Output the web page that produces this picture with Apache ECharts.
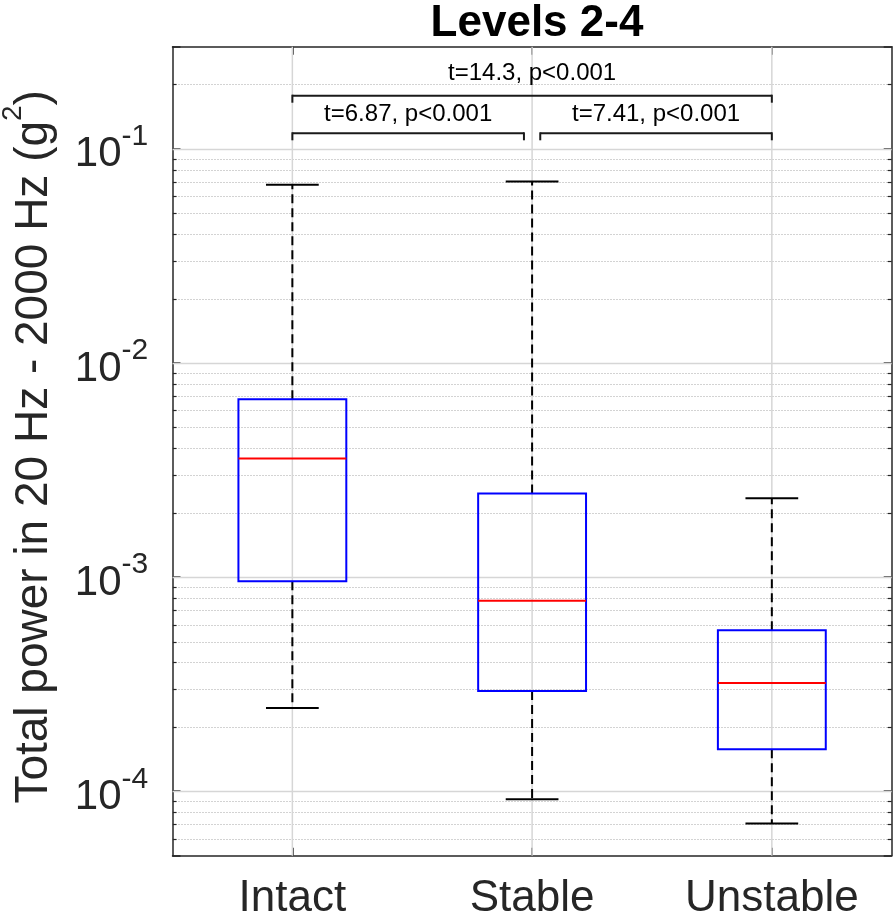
<!DOCTYPE html>
<html><head><meta charset="utf-8">
<script src="https://cdn.jsdelivr.net/npm/echarts@6/dist/echarts.min.js"></script>
<style>html,body{margin:0;padding:0;background:#fff}#c{width:894px;height:918px}</style>
</head><body><div id="c"></div>
<script>
// ---- data ----
const categories = ['Intact', 'Stable', 'Unstable'];
const lowerWhisker = [0.000245, 0.0000918, 0.0000706];
const q1Values = [0.000956, 0.000294, 0.000157];
const medianValues = [0.00358, 0.000776, 0.00032];
const q3Values = [0.00678, 0.002455, 0.000564];
const upperWhisker = [0.068, 0.0704, 0.002335];
const yMin = 5e-5, yMax = 0.3;
const decadeTicks = [1e-4, 1e-3, 1e-2, 1e-1];
const statPairs = [[0, 1], [1, 2], [0, 2]];
const statLevels = [1, 1, 2];
const statLabels = ['t=6.87, p<0.001', 't=7.41, p<0.001', 't=14.3, p<0.001'];
const titleText = 'Levels 2-4';
const yTitleMain = 'Total power in 20 Hz - 2000 Hz (g';
const yTitleSup = '2';
const yTitleEnd = ')';

// minor log ticks (2..9 x decade) inside the axis range
const minorTicks = [];
for (let e = -5; e <= -1; e++) {
  for (let k = 2; k <= 9; k++) {
    const v = k * Math.pow(10, e);
    if (v > yMin * 1.001 && v < yMax * 0.999) minorTicks.push(v);
  }
}

const FONT = 'Liberation Sans, Arial, sans-serif';
const AX = '#262626';
const chart = echarts.init(document.getElementById('c'), null, {renderer: 'canvas'});

function gridLineSeries(name, values, style, tickLen) {
  return {
    name, type: 'custom', z: 1, silent: true, clip: false,
    data: values.map(v => [0, v]),
    encode: {x: 0, y: 1},
    renderItem(params, api) {
      const cs = params.coordSys;
      const y = Math.round(api.coord([0, api.value(1)])[1]) + 0.5;
      const ch = [{type: 'line', shape: {x1: cs.x, y1: y, x2: cs.x + cs.width, y2: y}, style}];
      if (tickLen) {
        ch.push({type: 'line', shape: {x1: cs.x, y1: y, x2: cs.x + tickLen, y2: y}, style: {stroke: AX, lineWidth: 1.2}});
        ch.push({type: 'line', shape: {x1: cs.x + cs.width - tickLen, y1: y, x2: cs.x + cs.width, y2: y}, style: {stroke: AX, lineWidth: 1.2}});
      }
      return {type: 'group', children: ch};
    }
  };
}

const option = {
  animation: false,
  backgroundColor: '#fff',
  title: {
    text: titleText, left: 532, top: -3, textAlign: 'center',
    textStyle: {fontFamily: FONT, fontSize: 44, fontWeight: 'bold', color: '#000'}
  },
  grid: {left: 172.5, right: 2.3, top: 46.7, bottom: 62.3, containLabel: false, outerBoundsMode: 'none'},
  xAxis: [
    {
      type: 'category', data: categories, position: 'bottom', boundaryGap: true,
      axisLine: {show: true, lineStyle: {color: AX, width: 1.5}},
      axisTick: {show: true, inside: true, alignWithLabel: true, length: 8, lineStyle: {color: AX, width: 1.5}},
      axisLabel: {margin: 21, fontSize: 44, fontFamily: FONT, color: AX, interval: 0},
      splitLine: {show: false}
    },
    {
      type: 'category', data: categories, position: 'top', boundaryGap: true,
      axisLine: {show: true, lineStyle: {color: AX, width: 1.5}},
      axisTick: {show: true, inside: true, alignWithLabel: true, length: 8, lineStyle: {color: AX, width: 1.5}},
      axisLabel: {show: false}, splitLine: {show: false}
    }
  ],
  yAxis: [
    {
      type: 'log', logBase: 10, min: yMin, max: yMax, position: 'left',
      axisLine: {show: true, lineStyle: {color: AX, width: 1.5}},
      axisTick: {show: true, inside: true, length: 8, lineStyle: {color: AX, width: 1.5}},
      splitLine: {show: false},
      axisLabel: {
        margin: 24, color: AX,
        formatter(v) {
          const l = Math.log10(v), e = Math.round(l);
          if (Math.abs(l - e) > 1e-6) return '';
          return '{b|10}{s|' + e + '}{sp| }';
        },
        rich: {
          b: {fontSize: 42, fontFamily: FONT, color: AX, verticalAlign: 'bottom'},
          s: {fontSize: 30, fontFamily: FONT, color: AX, verticalAlign: 'top'},
          sp: {fontSize: 1, lineHeight: 54}
        }
      },
      name: '{m|' + yTitleMain + '}{s|' + yTitleSup + '}{m|' + yTitleEnd + '}{sp| }',
      nameLocation: 'middle', nameRotate: 90, nameGap: 115.6,
      nameTextStyle: {
        color: AX,
        padding: [0, 0, 0, 9],
        rich: {
          m: {fontSize: 46, fontFamily: FONT, color: AX, verticalAlign: 'bottom'},
          s: {fontSize: 28, fontFamily: FONT, color: AX, verticalAlign: 'top'},
          sp: {fontSize: 1, lineHeight: 58}
        }
      }
    },
    {
      type: 'log', logBase: 10, min: yMin, max: yMax, position: 'right',
      axisLine: {show: true, lineStyle: {color: AX, width: 1.5}},
      axisTick: {show: true, inside: true, length: 8, lineStyle: {color: AX, width: 1.5}},
      splitLine: {show: false}, axisLabel: {show: false}
    }
  ],
  series: [
    gridLineSeries('minorGrid', minorTicks, {stroke: '#a6a6a6', lineWidth: 1, lineDash: [1, 2]}, 4),
    gridLineSeries('majorGrid', decadeTicks, {stroke: '#d6d6d6', lineWidth: 1.5}, 0),
    {
      name: 'vGrid', type: 'custom', z: 1, silent: true,
      data: categories.map((c, i) => [i, yMin]),
      encode: {x: 0, y: 1},
      renderItem(params, api) {
        const cs = params.coordSys;
        const x = api.coord([api.value(0), yMin])[0];
        return {type: 'line', shape: {x1: x, y1: cs.y, x2: x, y2: cs.y + cs.height}, style: {stroke: '#d6d6d6', lineWidth: 1.5}};
      }
    },
    {
      name: 'boxes', type: 'custom', z: 3, clip: false,
      data: categories.map((c, i) => [i, lowerWhisker[i], q1Values[i], medianValues[i], q3Values[i], upperWhisker[i]]),
      encode: {x: 0, y: [1, 2, 3, 4, 5]},
      renderItem(params, api) {
        const cs = params.coordSys;
        const i = api.value(0);
        const bw = cs.width / categories.length;
        const x = api.coord([i, api.value(3)])[0];
        const yLo = api.coord([i, api.value(1)])[1];
        const yQ1 = api.coord([i, api.value(2)])[1];
        const yMed = api.coord([i, api.value(3)])[1];
        const yQ3 = api.coord([i, api.value(4)])[1];
        const yHi = api.coord([i, api.value(5)])[1];
        const hb = bw * 0.225, hc = bw * 0.11;
        const dash = {stroke: '#000', lineWidth: 2, lineDash: [9, 5]};
        const solid = {stroke: '#000', lineWidth: 2};
        return {type: 'group', children: [
          {type: 'line', shape: {x1: x, y1: yQ3, x2: x, y2: yHi}, style: dash},
          {type: 'line', shape: {x1: x, y1: yQ1, x2: x, y2: yLo}, style: dash},
          {type: 'line', shape: {x1: x - hc, y1: yHi, x2: x + hc, y2: yHi}, style: solid},
          {type: 'line', shape: {x1: x - hc, y1: yLo, x2: x + hc, y2: yLo}, style: solid},
          {type: 'rect', shape: {x: x - hb, y: yQ3, width: 2 * hb, height: yQ1 - yQ3}, style: {fill: null, stroke: '#0000ff', lineWidth: 2}},
          {type: 'line', shape: {x1: x - hb, y1: yMed, x2: x + hb, y2: yMed}, style: {stroke: '#ff0000', lineWidth: 2}}
        ]};
      }
    },
    {
      name: 'stats', type: 'custom', z: 4, clip: false,
      data: statPairs.map((p, k) => [p[0], p[1], statLevels[k], k]),
      encode: {x: [0, 1]},
      renderItem(params, api) {
        const cs = params.coordSys;
        const bw = cs.width / categories.length;
        const a = api.value(0), b = api.value(1), lvl = api.value(2), k = api.value(3);
        const shared = (cat, self) => statPairs.some((p, j) => j !== self && statLevels[j] === statLevels[self] && (p[0] === cat || p[1] === cat));
        let x1 = api.coord([a, yMax])[0];
        let x2 = api.coord([b, yMax])[0];
        if (shared(a, k)) x1 += bw * 0.034;
        if (shared(b, k)) x2 -= bw * 0.034;
        const y = lvl === 1 ? cs.y + 86.6 : cs.y + 49;
        const textOff = lvl === 1 ? 19 : 22.5;
        const st = {stroke: '#1a1a1a', lineWidth: 2};
        return {type: 'group', children: [
          {type: 'line', shape: {x1: x1, y1: y, x2: x2, y2: y}, style: st},
          {type: 'line', shape: {x1: x1, y1: y - 1, x2: x1, y2: y + 7}, style: st},
          {type: 'line', shape: {x1: x2, y1: y - 1, x2: x2, y2: y + 7}, style: st},
          {type: 'text', x: (x1 + x2) / 2, y: y - textOff,
           style: {text: statLabels[k], fontSize: 24, fontFamily: FONT, fill: '#000', align: 'center', verticalAlign: 'middle'}}
        ]};
      }
    }
  ]
};
chart.setOption(option);
</script>
</body></html>
